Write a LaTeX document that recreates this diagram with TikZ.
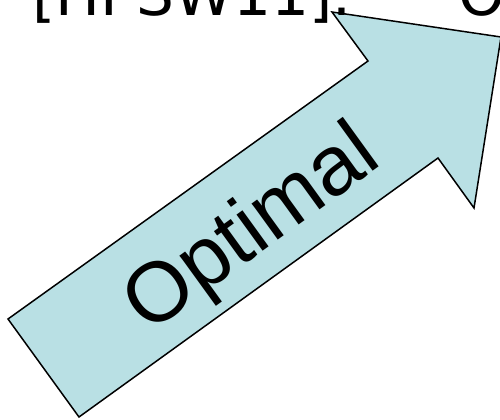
\documentclass[tikz,border=0pt]{standalone}
\usepackage{fontspec}
\setmainfont{Liberation Sans}
\newfontfamily\topfont{DejaVu Sans}
\definecolor{arrowfill}{RGB}{185,224,228}
\begin{document}
\begin{tikzpicture}[x=0.02cm,y=-0.02cm,
  bigarrow/.style={draw=black,fill=arrowfill,line width=0.85pt,line join=miter},
  toptext/.style={font=\topfont\fontsize{34}{40}\selectfont,inner sep=0pt,anchor=base west},
  arrowlabel/.style={font=\fontsize{48}{56}\selectfont,inner sep=0pt,anchor=base,rotate=35.9}]
\clip (0,0) rectangle (500,419);
\useasboundingbox (0,0) rectangle (500,419);
\coordinate (t1) at (8,319);
\coordinate (t2) at (79,417);
\coordinate (n1) at (438,158);
\coordinate (h1) at (474,208);
\coordinate (tip) at (501,37);
\coordinate (h2) at (332,12);
\coordinate (n2) at (368,61);
\draw[bigarrow] (t1) -- (t2) -- (n1) -- (h1) -- (tip) -- (h2) -- (n2) -- cycle;
\node[arrowlabel] (lbl) at (266,249) {Optimal};
\node[toptext] (ref) at (32,15.5) {[HPSW11].};
\node[toptext] (o) at (458.6,15.5) {O};
\end{tikzpicture}
\end{document}
